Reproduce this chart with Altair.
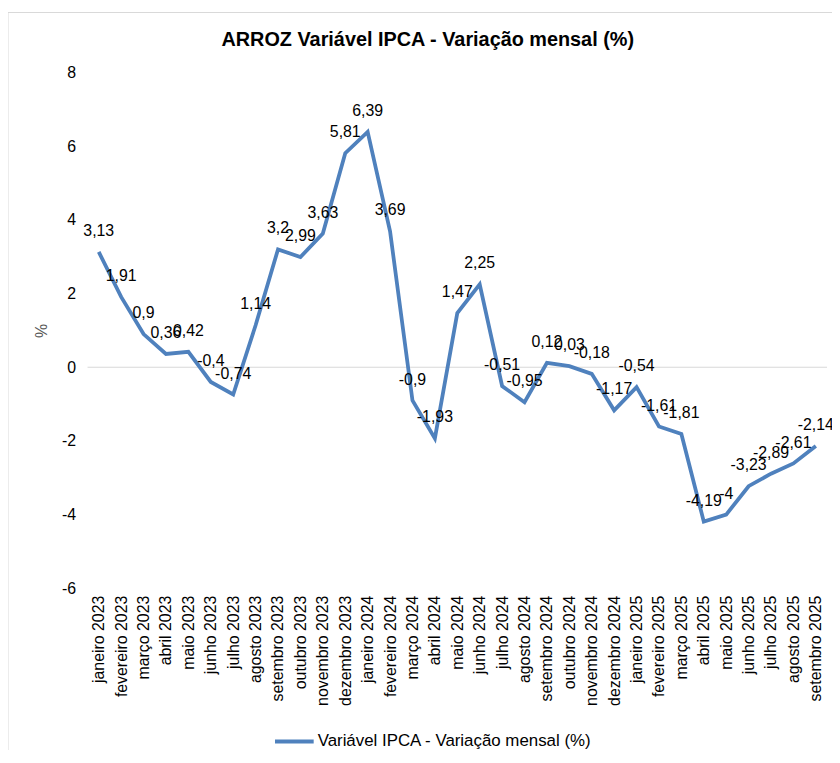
import altair as alt
import pandas as pd

months = [
    "janeiro 2023", "fevereiro 2023", "março 2023", "abril 2023", "maio 2023",
    "junho 2023", "julho 2023", "agosto 2023", "setembro 2023", "outubro 2023",
    "novembro 2023", "dezembro 2023", "janeiro 2024", "fevereiro 2024",
    "março 2024", "abril 2024", "maio 2024", "junho 2024", "julho 2024",
    "agosto 2024", "setembro 2024", "outubro 2024", "novembro 2024",
    "dezembro 2024", "janeiro 2025", "fevereiro 2025", "março 2025",
    "abril 2025", "maio 2025", "junho 2025", "julho 2025", "agosto 2025",
    "setembro 2025",
]
values = [
    3.13, 1.91, 0.9, 0.36, 0.42, -0.4, -0.74, 1.14, 3.2, 2.99, 3.63, 5.81,
    6.39, 3.69, -0.9, -1.93, 1.47, 2.25, -0.51, -0.95, 0.12, 0.03, -0.18,
    -1.17, -0.54, -1.61, -1.81, -4.19, -4.0, -3.23, -2.89, -2.61, -2.14,
]
y_ticks = [-6, -4, -2, 0, 2, 4, 6, 8]
series_name = "Variável IPCA - Variação mensal (%)"
title_text = "ARROZ Variável IPCA - Variação mensal (%)"

def fmt(v):
    s = ("%.2f" % v).rstrip("0").rstrip(".")
    return s.replace(".", ",")

df = pd.DataFrame({
    "mes": months,
    "valor": values,
    "rotulo": [fmt(v) for v in values],
    "serie": [series_name] * len(months),
})
title_df = pd.DataFrame({"titulo": [title_text]})

FONT = "Liberation Sans, Arial, sans-serif"
COLOR = "#4F81BD"
W = 745.6
H = 520

x_enc = alt.X(
    "mes:O",
    sort=months,
    scale=alt.Scale(type="point", padding=0.5),
    axis=alt.Axis(
        title=None, labelAngle=-90, labelFontSize=16, labelFont=FONT,
        labelColor="#000000", ticks=False, domain=False, grid=False,
        labelPadding=7, labelOverlap=False,
    ),
)
y_enc = alt.Y(
    "valor:Q",
    scale=alt.Scale(domain=[-6, 8], nice=False, zero=False),
    axis=alt.Axis(
        values=y_ticks, title="%", titleColor="#595959", titleFontSize=16,
        titleFont=FONT, titleFontWeight="normal", titleAngle=-90,
        titleX=-46, titleY=260, titleAlign="center", titleBaseline="middle",
        labelFontSize=16, labelFont=FONT, labelColor="#000000",
        labelExpr="'' + datum.value", labelPadding=12,
        ticks=False, domain=False, grid=False,
    ),
)

frame = alt.Chart(title_df).mark_rect(
    fill=None, stroke="#D9D9D9", strokeWidth=1
).encode(
    x=alt.value(-80.2), x2=alt.value(W + 200),
    y=alt.value(-60.5), y2=alt.value(H + 400),
)

title = alt.Chart(title_df).mark_text(
    fontSize=20, font=FONT, fontWeight="bold", color="#000000",
    align="center", baseline="alphabetic",
).encode(
    x=alt.value(343), y=alt.value(-27), text="titulo:N",
)

zero = alt.Chart(title_df).mark_rule(color="#D9D9D9", strokeWidth=1).encode(
    y=alt.datum(0)
)

line = alt.Chart(df).mark_line(strokeWidth=3.8, strokeJoin="miter").encode(
    x=x_enc,
    y=y_enc,
    color=alt.Color(
        "serie:N",
        scale=alt.Scale(range=[COLOR]),
        legend=alt.Legend(
            title=None, orient="none", legendX=187, legendY=653,
            symbolType="stroke", symbolSize=1521, symbolStrokeWidth=4,
            labelFontSize=17, labelFont=FONT, labelColor="#000000",
            labelOffset=2, labelLimit=0,
        ),
    ),
)

labels = alt.Chart(df).mark_text(
    fontSize=16, font=FONT, color="#000000", dy=-21, baseline="middle",
    align="center",
).encode(
    x=alt.X("mes:O", sort=months),
    y=alt.Y("valor:Q"),
    text="rotulo:N",
)

chart = alt.layer(frame, title, zero, line, labels).properties(
    width=W,
    height=H,
    autosize=alt.AutoSizeParams(type="none"),
    padding={"left": 80.2, "top": 62, "right": 5, "bottom": 160},
).configure_view(stroke=None)

chart.save("out.html", embed_options={"renderer": "svg", "actions": False})
